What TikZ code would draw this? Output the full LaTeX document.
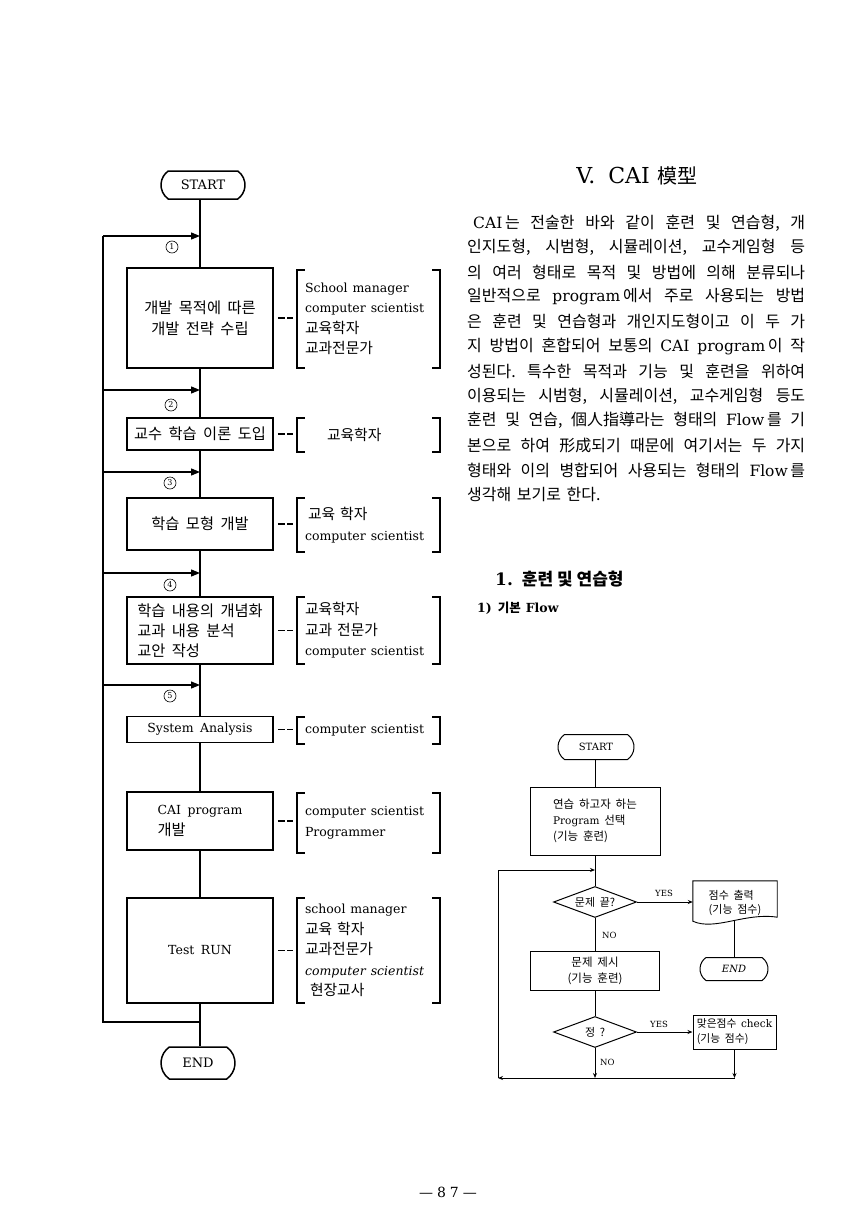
\documentclass[tikz,border=0pt]{standalone}
\usepackage{fontspec}
\setmainfont{DejaVu Serif}
\newfontfamily\krfont{Noto Sans CJK KR}
\usetikzlibrary{shapes.geometric,shapes.misc,arrows.meta,calc}
\newcommand\ltsz{12.5}
\newcommand\lt[1]{{\rmfamily\fontsize{\ltsz}{\ltsz}\selectfont #1}}
\newcommand\KRs[2]{\krfont\fontsize{#1}{#2}\selectfont\spaceskip=0.42em\relax}
\newcommand\PJ{\frenchspacing\spaceskip=0.15em plus 1fil\relax}
\newcommand\brkt[1]{%
  \draw[brkline] ([xshift=8pt]#1.north west) -- (#1.north west) -- (#1.south west) -- ([xshift=8pt]#1.south west);
  \draw[brkline] ([xshift=-8pt]#1.north east) -- (#1.north east) -- (#1.south east) -- ([xshift=-8pt]#1.south east);}
\tikzset{
 conn/.style={line width=1.3pt},
 arr/.style={line width=1.3pt,-{Triangle[length=9pt,width=7pt]}},
 fbox/.style={draw,line width=1.5pt,minimum width=146pt,inner sep=2pt,font=\KRs{15.3}{21}},
 term/.style={draw,rounded rectangle,rounded rectangle arc length=110,line width=1.5pt,inner sep=0pt,font=\fontsize{13}{13}\selectfont},
 rbox/.style={text width=127pt,inner xsep=8pt,inner ysep=0pt,align=left,font=\KRs{14.8}{20.5}},
 brkline/.style={line width=1.6pt},
 dsh/.style={line width=1.4pt,dash pattern=on 7pt off 2.5pt},
 cnum/.style={circle,draw,line width=0.6pt,minimum size=12pt,inner sep=0pt,font=\fontsize{8}{8}\selectfont},
 pline/.style={anchor=west,inner sep=0pt,font={\KRs{16}{20}\PJ\def\ltsz{15.5}}},
 sline/.style={line width=0.9pt},
 sarr/.style={line width=0.9pt,-{Stealth[length=5pt,width=4pt]}},
 sbox/.style={draw,line width=1pt,inner sep=1pt,font={\KRs{11.5}{16}\def\ltsz{10.5}}},
 sdia/.style={diamond,draw,line width=1pt,aspect=2.7,inner sep=1pt,minimum width=83pt,minimum height=31pt,font={\KRs{11}{12}}},
 sterm/.style={draw,rounded rectangle,rounded rectangle arc length=110,line width=1pt,inner sep=0pt,font=\fontsize{10}{10}\selectfont},
 slab/.style={inner sep=0pt,font=\fontsize{8.5}{9}\selectfont},
}
\begin{document}
\begin{tikzpicture}[x=1pt,y=-1pt]
\fill[white] (0,0) rectangle (849,1228);
\useasboundingbox (0,0) rectangle (849,1228);

% ---------------- left flowchart ----------------
\node[term,minimum width=84pt,minimum height=28pt] (start) at (203,185) {START};
\node[fbox,minimum height=100pt,align=center] (b1) at (200,318) {개발 목적에 따른\\개발 전략 수립};
\node[fbox,minimum height=32pt] (b2) at (200,434) {교수 학습 이론 도입};
\node[fbox,minimum height=52pt] (b3) at (200,524) {학습 모형 개발};
\node[fbox,minimum height=67pt,align=left,font=\KRs{15.3}{20}] (b4) at (200,630.5) {학습 내용의 개념화\\교과 내용 분석\\교안 작성};
\node[fbox,minimum height=26pt] (b5) at (200,729.5) {\lt{System Analysis}};
\node[fbox,minimum height=58pt,align=left] (b6) at (200,821) {\lt{CAI program}\\개발};
\node[fbox,minimum height=105pt] (b7) at (200,950.5) {\lt{Test RUN}};
\node[term,minimum width=74pt,minimum height=32pt] (end) at (198,1063) {END};

\node[rbox,minimum height=98pt] (r1) at (368.5,319) {\lt{School manager}\\\lt{computer scientist}\\교육학자\\교과전문가};
\node[rbox,minimum height=34pt] (r2) at (368.5,435) {\hspace*{22pt}교육학자};
\node[rbox,minimum height=54pt] (r3) at (368.5,525) {\hspace*{3pt}교육 학자\\\lt{computer scientist}};
\node[rbox,minimum height=67pt] (r4) at (368.5,630.5) {교육학자\\교과 전문가\\\lt{computer scientist}};
\node[rbox,minimum height=27pt] (r5) at (368.5,730.5) {\lt{computer scientist}};
\node[rbox,minimum height=60pt] (r6) at (368.5,823) {\lt{computer scientist}\\\lt{Programmer}};
\node[rbox,minimum height=105pt] (r7) at (368.5,950.5) {\lt{school manager}\\교육 학자\\교과전문가\\\lt{\itshape computer scientist}\\\hspace*{5pt}현장교사};

\foreach \b/\r in {b1/r1,b2/r2,b3/r3,b4/r4,b5/r5,b6/r6,b7/r7}{
  \brkt{\r}
  \draw[dsh] ([xshift=4pt]\b.east) -- ([xshift=-4pt]\b.east -| \r.west);
}

\draw[conn] (start.south -| b1.north) -- (b1.north);
\draw[conn] (b1.south) -- (b2.north);
\draw[conn] (b2.south) -- (b3.north);
\draw[conn] (b3.south) -- (b4.north);
\draw[conn] (b4.south) -- (b5.north);
\draw[conn] (b5.south) -- (b6.north);
\draw[conn] (b6.south) -- (b7.north);
\draw[conn] (b7.south) -- (b7.south |- end.north);

\coordinate (L1) at (103,236);
\coordinate (L2) at (103,390);
\coordinate (L3) at (103,472);
\coordinate (L4) at (103,573);
\coordinate (L5) at (103,685);
\coordinate (Lb) at (103,1022);
\coordinate (Jb) at (200,1022);
\coordinate (T1) at (200,236);
\coordinate (T2) at (200,390);
\coordinate (T3) at (200,472);
\coordinate (T4) at (200,573);
\coordinate (T5) at (200,685);
\draw[conn] (Jb) -- (Lb) -- (L1);
\draw[arr] (L1) -- (T1);
\draw[arr] (L2) -- (T2);
\draw[arr] (L3) -- (T3);
\draw[arr] (L4) -- (T4);
\draw[arr] (L5) -- (T5);
\node[cnum] (c1) at (172,247) {1};
\node[cnum] (c2) at (171,405) {2};
\node[cnum] (c3) at (170,483) {3};
\node[cnum] (c4) at (170,585) {4};
\node[cnum] (c5) at (170,696) {5};

% ---------------- right text ----------------
\node (title) at (637,176) {\fontsize{22}{24}\selectfont V.\hspace{13pt}CAI\hspace{8pt}{\krfont\fontsize{20}{24}\selectfont 模型}};

\node[pline] (p1) at (473,223) {\makebox[332pt][s]{\lt{CAI}\,는 전술한 바와 같이 훈련 및 연습형, 개}};
\node[pline] (p2) at (467,247.7) {\makebox[338pt][s]{인지도형, 시범형, 시뮬레이션, 교수게임형 등}};
\node[pline] (p3) at (467,272.4) {\makebox[338pt][s]{의 여러 형태로 목적 및 방법에 의해 분류되나}};
\node[pline] (p4) at (467,297.1) {\makebox[338pt][s]{일반적으로 \lt{program}\,에서 주로 사용되는 방법}};
\node[pline] (p5) at (467,321.8) {\makebox[338pt][s]{은 훈련 및 연습형과 개인지도형이고 이 두 가}};
\node[pline] (p6) at (467,346.5) {\makebox[338pt][s]{지 방법이 혼합되어 보통의 \lt{CAI program}\,이 작}};
\node[pline] (p7) at (467,371.2) {\makebox[338pt][s]{성된다. 특수한 목적과 기능 및 훈련을 위하여}};
\node[pline] (p8) at (467,395.9) {\makebox[338pt][s]{이용되는 시범형, 시뮬레이션, 교수게임형 등도}};
\node[pline] (p9) at (467,420.6) {\makebox[338pt][s]{훈련 및 연습, 個人指導라는 형태의 \lt{Flow}\,를 기}};
\node[pline] (p10) at (467,445.3) {\makebox[338pt][s]{본으로 하여 形成되기 때문에 여기서는 두 가지}};
\node[pline] (p11) at (467,470) {\makebox[338pt][s]{형태와 이의 병합되어 사용되는 형태의 \lt{Flow}\,를}};
\node[pline,font={\KRs{16}{20}\frenchspacing\spaceskip=0.35em\relax}] (p12) at (467,494.7) {생각해 보기로 한다.};

\node[anchor=west,inner sep=0pt] (h1) at (495,579) {\fontsize{17}{17}\selectfont\bfseries 1.\hspace{9pt}{\krfont\bfseries 훈련 및 연습형}};
\node[anchor=west,inner sep=0pt] (h2) at (477,608) {\fontsize{12.5}{12.5}\selectfont\bfseries 1)\hspace{6pt}{\krfont\bfseries 기본}\hspace{5pt}Flow};

% ---------------- small flowchart ----------------
\node[sterm,minimum width=76pt,minimum height=25pt] (sstart) at (596,747) {START};
\node[sbox,minimum width=130pt,minimum height=68pt,align=left] (sa) at (595,821) {연습 하고자 하는\\\lt{Program} 선택\\(기능 훈련)};
\node[sdia] (sd1) at (595,902) {문제 끝?};
\node[inner sep=0pt,minimum width=84pt,minimum height=44pt,align=left,font={\KRs{11}{14.5}}] (sdoc) at (735,903) {점수 출력\\(기능 점수)};
\draw[sline] (sdoc.north west) -- (sdoc.north east) -- ([yshift=8pt]sdoc.south east)
  .. controls ([xshift=-32pt,yshift=13pt]sdoc.south east) and ([xshift=22pt,yshift=-6pt]sdoc.south west) .. ([yshift=4pt]sdoc.south west) -- cycle;
\node[sterm,minimum width=68pt,minimum height=23pt,font=\fontsize{10}{10}\selectfont\itshape] (send) at (734,969) {END};
\node[sbox,minimum width=129pt,minimum height=39pt,align=center] (sb) at (595,970.5) {문제 제시\\(기능 훈련)};
\node[sdia] (sd2) at (595,1032) {정 ?};
\node[sbox,minimum width=83pt,minimum height=34pt,align=left,font={\KRs{10.8}{15}\def\ltsz{10.5}}] (sc) at (734.5,1032) {맞은점수 \lt{check}\\(기능 점수)};

\node[slab] (yes1) at (664,893) {YES};
\node[slab] (yes2) at (659,1024) {YES};
\node[slab,anchor=west] (no1) at (602,935) {NO};
\node[slab,anchor=west] (no2) at (600,1062) {NO};

\draw[sline] (sstart.south -| sa.north) -- (sa.north);
\draw[sline] (sa.south) -- (sd1.north);
\draw[sarr] (sd1.east) -- (sd1.east -| sdoc.west);
\draw[sline] ($(send.north |- sdoc.south)+(0,-5)$) -- (send.north);
\draw[sline] (sd1.south) -- (sb.north);
\draw[sline] (sb.south) -- (sd2.north);
\draw[sarr] (sd2.east) -- (sd2.east -| sc.west);

\coordinate (sBL) at (498,1078);
\coordinate (sIn) at (595,870);
\coordinate (sJ) at (sd2.south |- sBL);
\coordinate (sR) at (sc.south |- sBL);
\draw[sarr] (sc.south) -- (sR);
\draw[sline] (sR) -- (sJ);
\draw[sarr] (sd2.south) -- (sJ);
\draw[sarr] (sJ) -- (sBL);
\draw[sarr] (sBL) |- (sIn);

% page number
\node (pg) at (448,1192) {\fontsize{14}{14}\selectfont ---\hspace{4pt}8\hspace{4pt}7\hspace{4pt}---};
\end{tikzpicture}
\end{document}
